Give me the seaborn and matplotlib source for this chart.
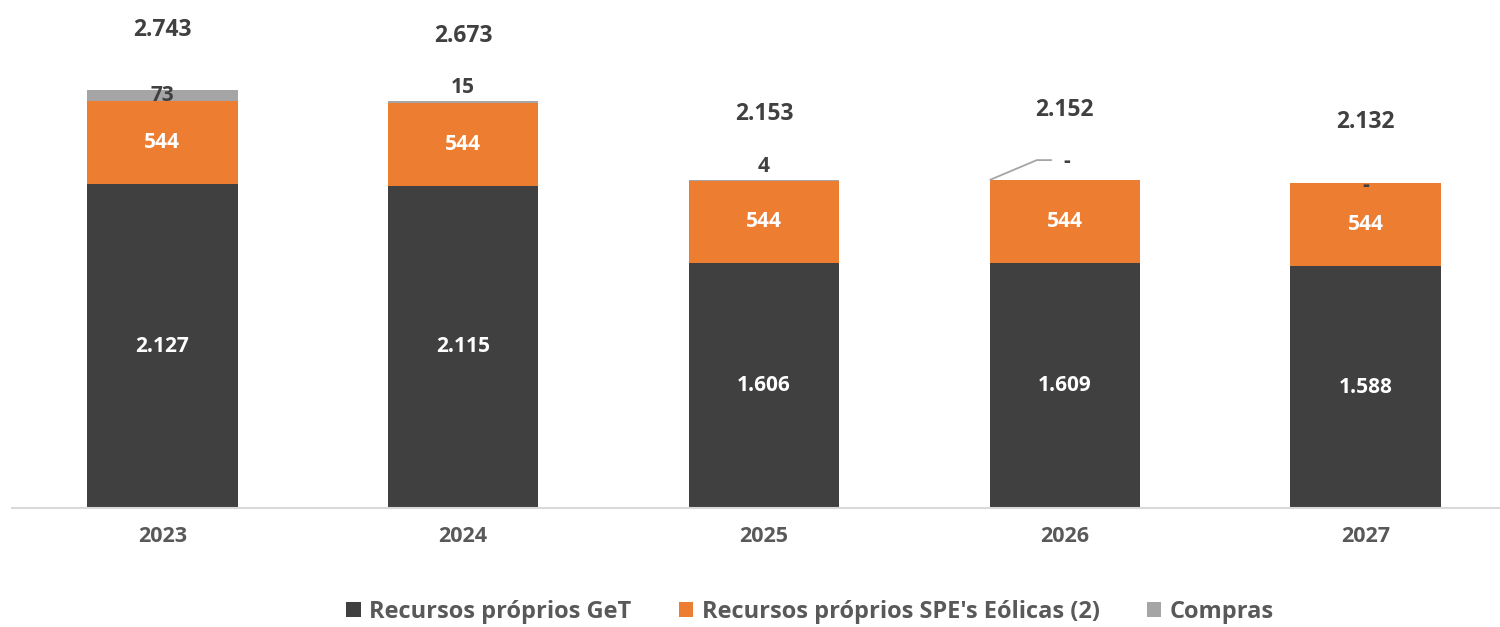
import matplotlib
matplotlib.use("Agg")
import matplotlib.pyplot as plt
from matplotlib.patches import Patch
import seaborn as sns
import pandas as pd
import numpy as np

years = ["2023", "2024", "2025", "2026", "2027"]
get_vals = [2127, 2115, 1606, 1609, 1588]
spe_vals = [544, 544, 544, 544, 544]
compras_vals = [73, 15, 4, 0, 0]
totals = [2743, 2673, 2153, 2152, 2132]
series_names = ["Recursos próprios GeT", "Recursos próprios SPE's Eólicas (2)", "Compras"]

# style
colors = ["#404040", "#ED7D31", "#A5A5A5"]
total_label_dy_px = [60, 65, 66, 70, 61]

sns.set_theme(style="white")
plt.rcParams["font.family"] = ["Open Sans", "DejaVu Sans"]

df = pd.DataFrame({"year": years, "get": get_vals, "spe": spe_vals, "compras": compras_vals})
df["c1"] = df["get"]
df["c2"] = df["get"] + df["spe"]
df["c3"] = df["c2"] + df["compras"]

W, H = 1500, 627
fig = plt.figure(figsize=(15, 6.27), dpi=100)
ax = fig.add_axes([12 / W, 1 - 508 / H, 1504 / W, 508 / H])

for col, color in zip(["c3", "c2", "c1"], colors[::-1]):
    sns.barplot(data=df, x="year", y=col, color=color, width=0.5, ax=ax,
                saturation=1, linewidth=0)

ax.set_ylim(0, 3335)
ax.set_xlim(-0.5, 4.5)
ax.set_xlabel("")
ax.set_ylabel("")
ax.set_yticks([])
for s in ["top", "right", "left"]:
    ax.spines[s].set_visible(False)
ax.spines["bottom"].set_color("#D9D9D9")
ax.spines["bottom"].set_linewidth(1.5)
ax.tick_params(axis="x", length=0, pad=13, labelsize=15.5, labelcolor="#595959")
for lab in ax.get_xticklabels():
    lab.set_fontweight("bold")

def fmt(v):
    if v == 0:
        return "-"
    return f"{v:,}".replace(",", ".")

px2pt = 0.72
LBL = 15
for i in range(len(years)):
    g, s, c = get_vals[i], spe_vals[i], compras_vals[i]
    ax.text(i, g / 2, fmt(g), ha="center", va="center", color="white",
            fontsize=LBL, fontweight="bold")
    ax.text(i, g + s / 2, fmt(s), ha="center", va="center", color="white",
            fontsize=LBL, fontweight="bold")
    top = g + s + c
    if i == 0:
        ax.text(i, g + s + c / 2, fmt(c), ha="center", va="center", color="#404040",
                fontsize=LBL, fontweight="bold")
    elif i == 3:
        ax.text(i + 0.007, top + 119, fmt(c), ha="center", va="center",
                color="#404040", fontsize=LBL, fontweight="bold")
        ax.plot([i - 0.25, i - 0.093, i - 0.043], [top, top + 131, top + 131],
                color="#A5A5A5", lw=1.3, solid_capstyle="butt")
    elif i == 4:
        ax.text(i, top - 12, fmt(c), ha="center", va="center", color="#404040",
                fontsize=LBL, fontweight="bold")
    else:
        ax.annotate(fmt(c), xy=(i, top), xytext=(0, 13 * px2pt), textcoords="offset points",
                    ha="center", va="center", color="#404040", fontsize=LBL, fontweight="bold")
    ax.annotate(fmt(totals[i]), xy=(i, top), xytext=(0, total_label_dy_px[i] * px2pt),
                textcoords="offset points", ha="center", va="center",
                color="#404040", fontsize=16.5, fontweight="bold")

handles = [Patch(facecolor=c, edgecolor="none") for c in colors]
leg = fig.legend(handles, series_names, loc="center", bbox_to_anchor=(0.54, 1 - 612 / H),
                 ncol=3, frameon=False, handlelength=0.62, handleheight=0.62,
                 handletextpad=0.35, columnspacing=2.0, prop={"weight": "bold", "size": 17})
for t in leg.get_texts():
    t.set_color("#595959")

fig.savefig("out.png", dpi=100)
